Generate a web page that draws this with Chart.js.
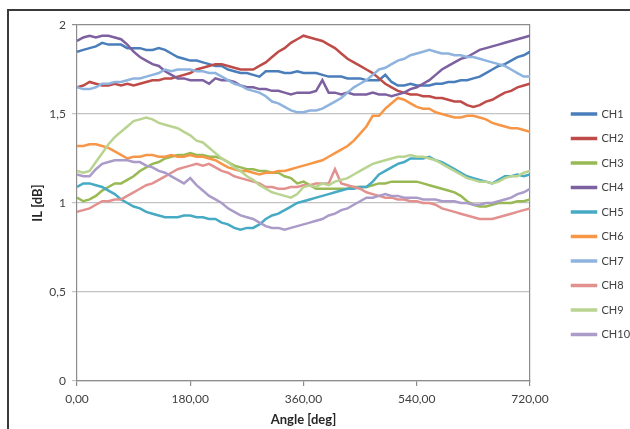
<!DOCTYPE html>
<html>
<head>
<meta charset="utf-8">
<title>IL vs angle</title>
<script src="https://cdn.jsdelivr.net/npm/chart.js@4.4.1/dist/chart.umd.min.js"></script>
<style>
  html, body { margin: 0; padding: 0; background: #fff; }
  #wrap { position: relative; width: 630px; height: 429px; overflow: hidden; }
  #frame { position: absolute; left: 7px; top: 9px; width: 650px; height: 450px;
           border-top: 2px solid #3a3a3a; border-left: 2px solid #3a3a3a; }
  canvas { position: absolute; left: 0; top: 0; }
</style>
</head>
<body>
<div id="wrap">
  <div id="frame"></div>
  <canvas id="il-chart" width="630" height="429"></canvas>
</div>
<script>
// angle steps (deg)
var angles = [0, 10, 20, 30, 40, 50, 60, 70, 80, 90,
    100, 110, 120, 130, 140, 150, 160, 170, 180, 190,
    200, 210, 220, 230, 240, 250, 260, 270, 280, 290,
    300, 310, 320, 330, 340, 350, 360, 370, 380, 390,
    400, 410, 420, 430, 440, 450, 460, 470, 480, 490,
    500, 510, 520, 530, 540, 550, 560, 570, 580, 590,
    600, 610, 620, 630, 640, 650, 660, 670, 680, 690,
    700, 710, 720];

var seriesNames = ["CH1", "CH2", "CH3", "CH4", "CH5", "CH6", "CH7", "CH8", "CH9", "CH10"];

var xTickLabels = ["0,00", "180,00", "360,00", "540,00", "720,00"];
var yTickLabels = ["0", "0,5", "1", "1,5", "2"];

// IL [dB]
var ch1 = [1.85, 1.86, 1.87, 1.88, 1.90, 1.89, 1.89, 1.89, 1.87, 1.87,
    1.87, 1.86, 1.86, 1.87, 1.86, 1.84, 1.82, 1.81, 1.80, 1.80,
    1.79, 1.78, 1.77, 1.77, 1.75, 1.74, 1.73, 1.73, 1.72, 1.71,
    1.74, 1.74, 1.74, 1.73, 1.73, 1.74, 1.73, 1.73, 1.73, 1.72,
    1.71, 1.71, 1.71, 1.70, 1.70, 1.70, 1.69, 1.69, 1.69, 1.72,
    1.68, 1.66, 1.66, 1.67, 1.66, 1.66, 1.66, 1.67, 1.67, 1.68,
    1.68, 1.69, 1.69, 1.70, 1.71, 1.73, 1.75, 1.77, 1.78, 1.80,
    1.82, 1.83, 1.85];
var ch2 = [1.65, 1.66, 1.68, 1.67, 1.66, 1.66, 1.67, 1.66, 1.67, 1.66,
    1.67, 1.68, 1.69, 1.69, 1.70, 1.70, 1.71, 1.72, 1.73, 1.75,
    1.76, 1.77, 1.78, 1.78, 1.77, 1.76, 1.75, 1.75, 1.75, 1.77,
    1.79, 1.82, 1.85, 1.87, 1.90, 1.92, 1.94, 1.93, 1.92, 1.91,
    1.89, 1.87, 1.84, 1.81, 1.79, 1.77, 1.75, 1.73, 1.70, 1.67,
    1.65, 1.63, 1.62, 1.61, 1.61, 1.60, 1.60, 1.59, 1.59, 1.58,
    1.57, 1.57, 1.55, 1.54, 1.55, 1.57, 1.58, 1.60, 1.62, 1.63,
    1.65, 1.66, 1.67];
var ch3 = [1.03, 1.01, 1.02, 1.04, 1.07, 1.09, 1.11, 1.11, 1.13, 1.15,
    1.18, 1.20, 1.22, 1.23, 1.25, 1.26, 1.27, 1.27, 1.28, 1.27,
    1.27, 1.26, 1.26, 1.25, 1.23, 1.21, 1.20, 1.19, 1.19, 1.18,
    1.18, 1.17, 1.17, 1.15, 1.14, 1.11, 1.12, 1.10, 1.08, 1.08,
    1.08, 1.08, 1.08, 1.08, 1.09, 1.09, 1.09, 1.10, 1.11, 1.11,
    1.12, 1.12, 1.12, 1.12, 1.12, 1.11, 1.10, 1.09, 1.08, 1.07,
    1.06, 1.04, 1.01, 0.99, 0.98, 0.98, 0.99, 1.00, 1.00, 1.00,
    1.01, 1.01, 1.02];
var ch4 = [1.91, 1.93, 1.94, 1.93, 1.94, 1.94, 1.93, 1.92, 1.89, 1.85,
    1.82, 1.80, 1.78, 1.77, 1.74, 1.72, 1.70, 1.70, 1.69, 1.69,
    1.69, 1.67, 1.70, 1.69, 1.69, 1.68, 1.66, 1.65, 1.65, 1.64,
    1.64, 1.63, 1.63, 1.62, 1.61, 1.62, 1.62, 1.62, 1.63, 1.69,
    1.62, 1.62, 1.61, 1.62, 1.61, 1.61, 1.61, 1.62, 1.61, 1.61,
    1.60, 1.61, 1.62, 1.64, 1.65, 1.67, 1.69, 1.72, 1.75, 1.77,
    1.79, 1.81, 1.82, 1.84, 1.86, 1.87, 1.88, 1.89, 1.90, 1.91,
    1.92, 1.93, 1.94];
var ch5 = [1.09, 1.11, 1.11, 1.10, 1.09, 1.07, 1.05, 1.02, 1.00, 0.98,
    0.97, 0.95, 0.94, 0.93, 0.92, 0.92, 0.92, 0.93, 0.93, 0.92,
    0.92, 0.91, 0.91, 0.89, 0.88, 0.86, 0.85, 0.86, 0.86, 0.88,
    0.91, 0.93, 0.94, 0.96, 0.98, 1.00, 1.01, 1.02, 1.03, 1.04,
    1.05, 1.06, 1.07, 1.08, 1.08, 1.09, 1.09, 1.12, 1.16, 1.18,
    1.20, 1.22, 1.23, 1.25, 1.25, 1.25, 1.26, 1.24, 1.23, 1.21,
    1.19, 1.17, 1.15, 1.14, 1.13, 1.12, 1.11, 1.13, 1.15, 1.15,
    1.16, 1.15, 1.16];
var ch6 = [1.32, 1.32, 1.33, 1.33, 1.32, 1.31, 1.29, 1.27, 1.25, 1.26,
    1.26, 1.27, 1.27, 1.26, 1.26, 1.27, 1.26, 1.26, 1.27, 1.26,
    1.26, 1.25, 1.24, 1.22, 1.20, 1.19, 1.18, 1.18, 1.17, 1.16,
    1.17, 1.17, 1.18, 1.18, 1.19, 1.20, 1.21, 1.22, 1.23, 1.24,
    1.26, 1.28, 1.30, 1.32, 1.35, 1.39, 1.43, 1.49, 1.49, 1.53,
    1.56, 1.59, 1.58, 1.56, 1.54, 1.53, 1.53, 1.51, 1.50, 1.49,
    1.48, 1.48, 1.49, 1.49, 1.48, 1.47, 1.45, 1.44, 1.43, 1.42,
    1.42, 1.41, 1.40];
var ch7 = [1.65, 1.64, 1.64, 1.65, 1.67, 1.67, 1.68, 1.68, 1.69, 1.70,
    1.70, 1.71, 1.72, 1.73, 1.75, 1.74, 1.75, 1.75, 1.75, 1.74,
    1.74, 1.73, 1.73, 1.71, 1.69, 1.67, 1.66, 1.64, 1.63, 1.62,
    1.60, 1.57, 1.56, 1.54, 1.52, 1.51, 1.51, 1.52, 1.52, 1.53,
    1.55, 1.57, 1.59, 1.62, 1.65, 1.67, 1.69, 1.72, 1.75, 1.76,
    1.78, 1.80, 1.81, 1.83, 1.84, 1.85, 1.86, 1.85, 1.84, 1.84,
    1.83, 1.83, 1.82, 1.82, 1.81, 1.80, 1.79, 1.78, 1.77, 1.75,
    1.73, 1.71, 1.71];
var ch8 = [0.95, 0.96, 0.97, 0.99, 1.01, 1.01, 1.02, 1.02, 1.04, 1.06,
    1.08, 1.10, 1.11, 1.13, 1.15, 1.17, 1.19, 1.20, 1.21, 1.22,
    1.21, 1.22, 1.20, 1.18, 1.17, 1.15, 1.14, 1.13, 1.12, 1.11,
    1.09, 1.09, 1.08, 1.08, 1.09, 1.09, 1.10, 1.10, 1.11, 1.11,
    1.11, 1.19, 1.11, 1.10, 1.09, 1.08, 1.06, 1.05, 1.04, 1.03,
    1.03, 1.02, 1.02, 1.01, 1.01, 1.00, 1.00, 0.99, 0.97, 0.96,
    0.95, 0.94, 0.93, 0.92, 0.91, 0.91, 0.91, 0.92, 0.93, 0.94,
    0.95, 0.96, 0.97];
var ch9 = [1.18, 1.17, 1.18, 1.23, 1.28, 1.33, 1.37, 1.40, 1.43, 1.46,
    1.47, 1.48, 1.47, 1.45, 1.44, 1.43, 1.42, 1.40, 1.38, 1.35,
    1.34, 1.31, 1.28, 1.25, 1.23, 1.20, 1.18, 1.15, 1.13, 1.10,
    1.08, 1.06, 1.05, 1.04, 1.03, 1.05, 1.09, 1.10, 1.09, 1.11,
    1.10, 1.12, 1.13, 1.14, 1.16, 1.18, 1.20, 1.22, 1.23, 1.24,
    1.25, 1.26, 1.26, 1.27, 1.26, 1.26, 1.25, 1.24, 1.22, 1.20,
    1.18, 1.16, 1.14, 1.13, 1.12, 1.12, 1.11, 1.12, 1.14, 1.15,
    1.15, 1.17, 1.18];
var ch10 = [1.16, 1.15, 1.15, 1.19, 1.22, 1.23, 1.24, 1.24, 1.24, 1.23,
    1.23, 1.21, 1.20, 1.18, 1.17, 1.15, 1.13, 1.11, 1.14, 1.10,
    1.07, 1.04, 1.02, 1.00, 0.97, 0.95, 0.93, 0.92, 0.91, 0.89,
    0.87, 0.86, 0.86, 0.85, 0.86, 0.87, 0.88, 0.89, 0.90, 0.91,
    0.93, 0.94, 0.96, 0.97, 0.99, 1.01, 1.03, 1.03, 1.04, 1.05,
    1.04, 1.04, 1.03, 1.03, 1.03, 1.02, 1.02, 1.02, 1.01, 1.01,
    1.01, 1.00, 1.00, 0.99, 0.99, 1.00, 1.00, 1.01, 1.02, 1.03,
    1.05, 1.06, 1.08];

var seriesValues = [ch1, ch2, ch3, ch4, ch5, ch6, ch7, ch8, ch9, ch10];

var colors = ['#4a7ebb', '#be4b48', '#98b954', '#7d60a0', '#46aac5',
              '#f79646', '#8eb3de', '#e3918f', '#b9d490', '#aa9bc9'];

Chart.defaults.font.family = 'Lato';
Chart.defaults.color = '#404040';

var datasets = seriesNames.map(function (name, i) {
    return {
        label: name,
        data: angles.map(function (a, j) { return { x: a, y: seriesValues[i][j] }; }),
        borderColor: colors[i],
        backgroundColor: colors[i],
        borderWidth: 2.5,
        pointRadius: 0,
        tension: 0,
        order: seriesNames.length - i   // later series on top, like the original
    };
});

var axisGray = '#8c8c8c';

var ctx = document.getElementById('il-chart').getContext('2d');
var ilChart = new Chart(ctx, {
    type: 'line',
    data: { datasets: datasets },
    options: {
        responsive: false,
        animation: false,
        events: [],
        layout: { padding: { top: 25, left: 0, right: 0, bottom: 0 } },
        scales: {
            x: {
                type: 'linear',
                min: 0,
                max: 720,
                ticks: {
                    stepSize: 180,
                    padding: 6,
                    maxRotation: 0,
                    font: { size: 12 },
                    callback: function (v, i) { return xTickLabels[i]; }
                },
                grid: { drawOnChartArea: false, tickLength: 5, color: axisGray, lineWidth: 1.2 },
                border: { color: axisGray, width: 1.2 },
                title: {
                    display: true,
                    text: 'Angle [deg]',
                    color: '#262626',
                    font: { size: 13, weight: 'bold' },
                    padding: { top: 0, bottom: 1 }
                },
                afterFit: function (s) { s.height = 48; }
            },
            y: {
                min: 0,
                max: 2,
                ticks: {
                    stepSize: 0.5,
                    padding: 6,
                    font: { size: 12 },
                    callback: function (v, i) { return yTickLabels[i]; }
                },
                grid: {
                    tickLength: 5,
                    lineWidth: 1.2,
                    color: function (c) { return c.tick && c.tick.value === 2 ? axisGray : '#c3c3c3'; }
                },
                border: { color: axisGray, width: 1.2 },
                title: {
                    display: true,
                    text: 'IL [dB]',
                    color: '#262626',
                    font: { size: 13, weight: 'bold' },
                    padding: { top: 30, bottom: 0 }
                },
                afterFit: function (s) { s.width = 77; }
            },
            // empty right axis: draws the plot's right border and leaves the gap before the legend
            r: {
                type: 'linear',
                position: 'right',
                grid: { display: false },
                ticks: { display: false },
                border: { display: true, color: axisGray, width: 1.2 },
                afterFit: function (s) { s.width = 28.5; }
            }
        },
        plugins: {
            tooltip: { enabled: false },
            legend: {
                position: 'right',
                align: 'start',
                maxWidth: 71.5,
                title: { display: true, text: '', font: { size: 10, lineHeight: 1 }, padding: { top: 60, bottom: 0 } },
                labels: {
                    boxWidth: 24,
                    boxHeight: 1,
                    padding: 13.5,
                    color: '#404040',
                    font: { size: 11 },
                    sort: function (a, b) { return a.datasetIndex - b.datasetIndex; }
                }
            }
        }
    }
});
</script>
</body>
</html>
